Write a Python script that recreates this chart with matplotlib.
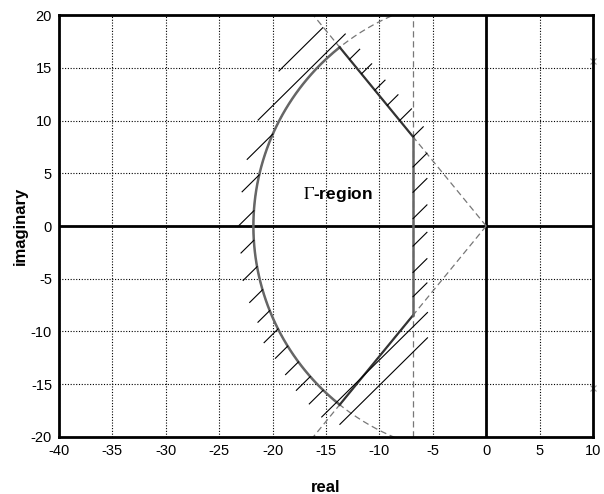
import numpy as np
import matplotlib.pyplot as plt

plt.rcParams['font.family'] = ['Liberation Sans', 'DejaVu Sans']
plt.rcParams['mathtext.fontset'] = 'stix'
plt.rcParams['axes.unicode_minus'] = False

# Gamma-region: disc radius, sector half-angle (deg), vertical bound
radius = 21.8
sector_deg = 51.0
x_bound = -6.85

# hatch strokes lie on the lines y = x + c
arc_c = [28.7, 26.1, 23.2, 20.4, 17.6, 14.9, 12.25, 9.74, 7.2, 4.7, 2.2, -0.3]
arc_len = [2.4, 1.6, 1.4, 1.2, 1.3, 1.2, 1.1, 1.3, 1.15, 1.2, 1.3, 1.3]
cone_c = [28.6, 26.1, 23.3, 20.7, 18.1, 15.3]
cone_len = [0.95, 0.95, 0.95, 1.0, 1.1, 0.95]
vert_y = [5.6, 3.2, 0.7, -1.9, -4.4, -6.7]
vert_len = [1.3, 1.3, 1.3, 1.3, 1.3, 1.3]
long_c = [31.4, 34.1, -2.7, -5.1]
long_x0 = [-21.35, -19.4, -15.4, -13.7]
long_x1 = [-13.2, -15.3, -5.5, -5.5]

pole_x = [10, 10]
pole_y = [15.6, -15.4]

xticks = np.arange(-40, 11, 5)
yticks = np.arange(-20, 21, 5)

k = np.tan(np.radians(sector_deg))
corner_x = -radius * np.cos(np.radians(sector_deg))
corner_y = radius * np.sin(np.radians(sector_deg))
bound_y = -k * x_bound

fig = plt.figure(figsize=(6.04, 4.94), dpi=100)
ax = fig.add_axes([0.0977, 0.1154, 0.8841, 0.8542])
ax.set_xlim(-40, 10)
ax.set_ylim(-20, 20)

ax.grid(True, color='black', linestyle=(0, (1, 1.5)), linewidth=0.8)
ax.set_axisbelow(True)
ax.set_xticks(xticks)
ax.set_yticks(yticks)
ax.tick_params(length=0, labelsize=10.5, pad=5)
for s in ax.spines.values():
    s.set_linewidth(2)

ax.axhline(0, color='black', lw=2)
ax.axvline(0, color='black', lw=2)

# dashed construction lines (left half of the circle, sector rays, vertical bound)
t = np.linspace(np.pi / 2, 3 * np.pi / 2, 300)
dash = dict(color='#777777', lw=0.9, linestyle=(0, (5, 3)))
ax.plot(radius * np.cos(t), radius * np.sin(t), **dash)
ax.plot([0, -25], [0, 25 * k], **dash)
ax.plot([0, -25], [0, -25 * k], **dash)
ax.axvline(x_bound, **dash)

# region boundary
th = np.radians(np.linspace(180 - sector_deg, 180 + sector_deg, 200))
ax.plot(radius * np.cos(th), radius * np.sin(th), color='#666666', lw=1.8)
ax.plot([corner_x, x_bound], [corner_y, bound_y], color='#333333', lw=1.6)
ax.plot([corner_x, x_bound], [-corner_y, -bound_y], color='#333333', lw=1.6)
ax.plot([x_bound, x_bound], [bound_y, -bound_y], color='#666666', lw=1.8)

hatch = dict(color='black', lw=0.8)
for c, d in zip(arc_c, arc_len):
    x = (-c - np.sqrt(2 * radius**2 - c**2)) / 2
    ax.plot([x, x - d], [x + c, x + c - d], **hatch)
for c, d in zip(cone_c, cone_len):
    x = -c / (1 + k)
    ax.plot([x, x + d], [x + c, x + c + d], **hatch)
for y, d in zip(vert_y, vert_len):
    ax.plot([x_bound, x_bound + d], [y, y + d], **hatch)
for c, x0, x1 in zip(long_c, long_x0, long_x1):
    ax.plot([x0, x1], [x0 + c, x1 + c], **hatch)

ax.plot(pole_x, pole_y, 'x', color='#999999', ms=4, mew=0.8, clip_on=False)

ax.text(-17.2, 3.0, r'$\mathrm{\Gamma}$-region', fontsize=12.5, fontweight='bold',
        va='center', ha='left')

ax.set_xlabel('real', fontsize=12, fontweight='bold', labelpad=16)
ax.set_ylabel('imaginary', fontsize=12, fontweight='bold', labelpad=2)

fig.savefig('out.png', dpi=100)
